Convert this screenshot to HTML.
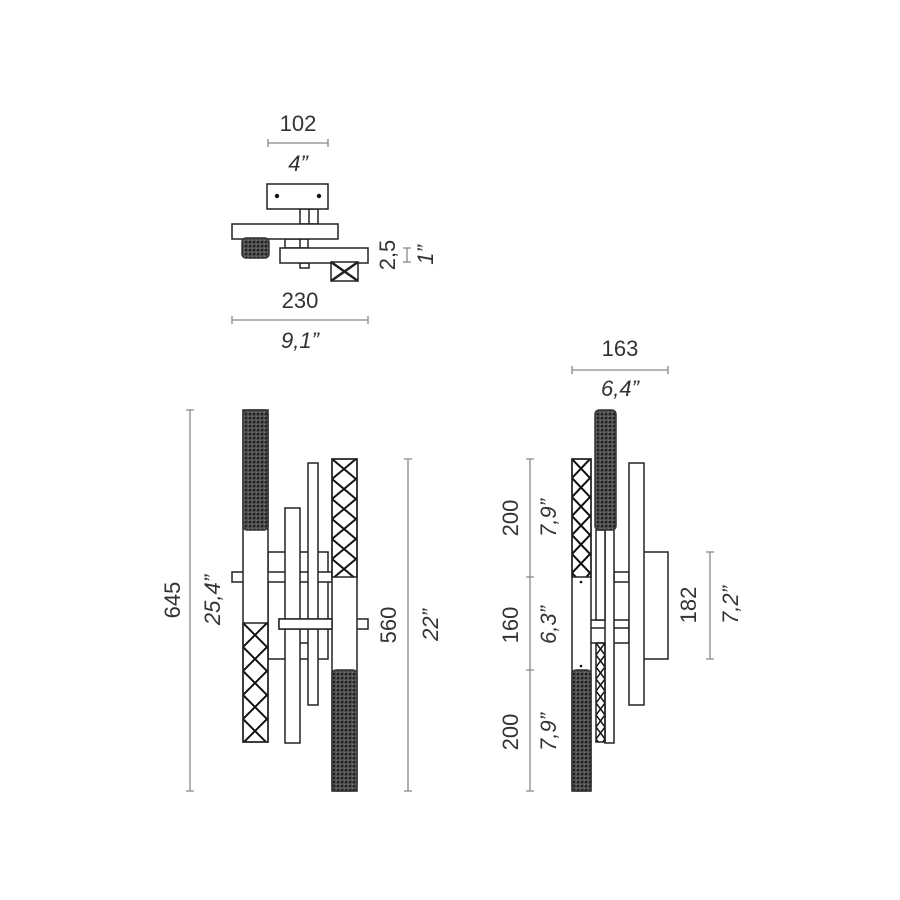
<!DOCTYPE html>
<html><head><meta charset="utf-8"><style>
html,body{margin:0;padding:0;background:#fff;}
svg{display:block;}
text{font-family:"Liberation Sans",sans-serif;font-size:22px;fill:#333;}
.i{font-style:italic;}
</style></head><body>
<svg width="900" height="900" viewBox="0 0 900 900" xmlns="http://www.w3.org/2000/svg">
<defs>
<pattern id="dots" width="4" height="4" patternUnits="userSpaceOnUse">
<rect width="4" height="4" fill="#555"/>
<circle cx="2" cy="2" r="1.3" fill="#222"/>
<circle cx="0" cy="0" r="0.6" fill="#ccc"/>
</pattern>
<pattern id="x24" width="24" height="24" patternUnits="userSpaceOnUse" x="243" y="623">
<path d="M0 0L24 24M24 0L0 24" stroke="#111" stroke-width="2"/>
</pattern>
<pattern id="x24b" width="24" height="20" patternUnits="userSpaceOnUse" x="332" y="459">
<path d="M0 0L24 20M24 0L0 20" stroke="#111" stroke-width="2"/>
</pattern>
<pattern id="x18" width="18" height="19" patternUnits="userSpaceOnUse" x="572" y="459">
<path d="M0 0L18 19M18 0L0 19" stroke="#111" stroke-width="2"/>
</pattern>
<pattern id="x9" width="9" height="12" patternUnits="userSpaceOnUse" x="596" y="643">
<path d="M0 0L9 12M9 0L0 12" stroke="#111" stroke-width="1.5"/>
</pattern>
</defs>
<g fill="#fff" stroke="#222" stroke-width="1.5">
<!-- TOP VIEW -->
<rect x="300" y="209" width="18" height="15"/><line x1="309" y1="209" x2="309" y2="224"/>
<rect x="267" y="184" width="61" height="25"/>
<rect x="285" y="239" width="23" height="9"/><line x1="300" y1="239" x2="300" y2="248"/>
<rect x="300" y="263" width="9" height="5"/>
<rect x="232" y="224" width="106" height="15"/>
<rect x="242" y="238" width="27" height="20" rx="4" fill="url(#dots)" stroke="#333"/>
<rect x="280" y="248" width="88" height="15"/>
<rect x="331" y="262" width="27" height="19"/>
<path d="M331 262L358 281M358 262L331 281" stroke-width="2.5"/>

<!-- LEFT VIEW -->
<rect x="268" y="552" width="60" height="107"/>
<rect x="232" y="572" width="100" height="10"/>
<rect x="285" y="508" width="15" height="235"/>
<rect x="308" y="463" width="10" height="242"/>
<line x1="300" y1="643" x2="308" y2="643"/>
<rect x="279" y="619" width="89" height="10"/>
<rect x="243" y="410" width="25" height="332"/>
<rect x="243" y="410" width="25" height="120" rx="4" fill="url(#dots)" stroke="#333"/>
<rect x="243" y="623" width="25" height="119" fill="url(#x24)"/>
<rect x="332" y="459" width="25" height="332"/>
<rect x="332" y="459" width="25" height="118" fill="url(#x24b)"/>
<rect x="332" y="670" width="25" height="121" rx="4" fill="url(#dots)" stroke="#333"/>
<rect x="279" y="619" width="53" height="10"/>

<!-- RIGHT VIEW -->
<rect x="643" y="552" width="25" height="107"/>
<rect x="614" y="572" width="15" height="10"/>
<rect x="590" y="620" width="39" height="23"/>
<line x1="590" y1="628" x2="629" y2="628"/>
<rect x="629" y="463" width="15" height="242"/>
<rect x="605" y="508" width="9" height="235"/>
<rect x="596" y="530" width="9" height="90"/>
<rect x="596" y="643" width="9" height="99" fill="url(#x9)"/>
<rect x="595" y="410" width="21" height="120" rx="4" fill="url(#dots)" stroke="#333"/>
<rect x="572" y="459" width="19" height="332"/>
<rect x="572" y="459" width="19" height="118" fill="url(#x18)"/>
<rect x="572" y="670" width="19" height="121" rx="4" fill="url(#dots)" stroke="#333"/>
</g>
<circle cx="277" cy="196" r="2.2" fill="#111"/><circle cx="319" cy="196" r="2.2" fill="#111"/>
<circle cx="581" cy="582" r="1.3" fill="#111"/><circle cx="581" cy="666" r="1.3" fill="#111"/>

<!-- dimension lines -->
<g stroke="#888" stroke-width="1.3" fill="none">
<path d="M268 143H328M268 139V147M328 139V147"/>
<path d="M232 320H368M232 316V324M368 316V324"/>
<path d="M572 370H668M572 366V374M668 366V374"/>
<path d="M407 248V262M403 248H411M403 262H411"/>
<path d="M190 410V791M186 410H194M186 791H194"/>
<path d="M408 459V791M404 459H412M404 791H412"/>
<path d="M530 459V791M526 459H534M526 577H534M526 670H534M526 791H534"/>
<path d="M710 552V659M706 552H714M706 659H714"/>
</g>

<text x="298" y="131" text-anchor="middle">102</text>
<text x="298" y="171" text-anchor="middle" class="i">4”</text>
<text x="300" y="308" text-anchor="middle">230</text>
<text x="300" y="348" text-anchor="middle" class="i">9,1”</text>
<text x="620" y="356" text-anchor="middle">163</text>
<text x="620" y="396" text-anchor="middle" class="i">6,4”</text>

<text transform="translate(395,255) rotate(-90)" text-anchor="middle">2,5</text>
<text transform="translate(433,255) rotate(-90)" text-anchor="middle" class="i">1”</text>
<text transform="translate(180,600) rotate(-90)" text-anchor="middle">645</text>
<text transform="translate(220,600) rotate(-90)" text-anchor="middle" class="i">25,4”</text>
<text transform="translate(396,625) rotate(-90)" text-anchor="middle">560</text>
<text transform="translate(438,625) rotate(-90)" text-anchor="middle" class="i">22”</text>
<text transform="translate(518,518) rotate(-90)" text-anchor="middle">200</text>
<text transform="translate(556,518) rotate(-90)" text-anchor="middle" class="i">7,9”</text>
<text transform="translate(518,625) rotate(-90)" text-anchor="middle">160</text>
<text transform="translate(556,625) rotate(-90)" text-anchor="middle" class="i">6,3”</text>
<text transform="translate(518,732) rotate(-90)" text-anchor="middle">200</text>
<text transform="translate(556,732) rotate(-90)" text-anchor="middle" class="i">7,9”</text>
<text transform="translate(696,605) rotate(-90)" text-anchor="middle">182</text>
<text transform="translate(738,605) rotate(-90)" text-anchor="middle" class="i">7,2”</text>
</svg>
</body></html>
